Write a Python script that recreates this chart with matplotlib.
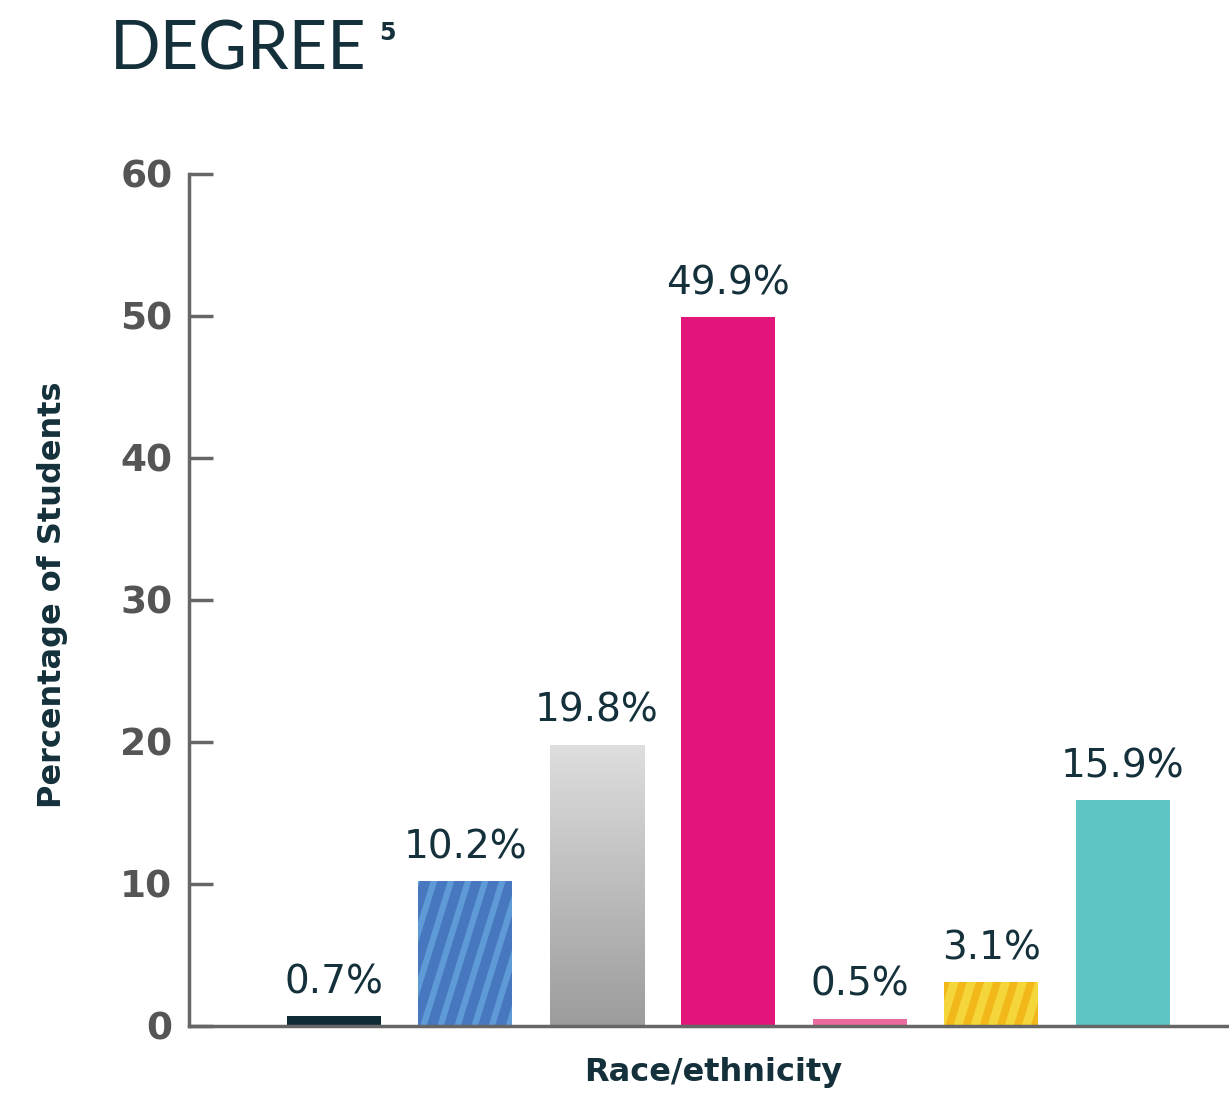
import matplotlib
matplotlib.use("Agg")
import matplotlib.pyplot as plt
from matplotlib.colors import LinearSegmentedColormap
import numpy as np

categories = ["Black", "Hispanic", "White", "Asian", "Native Hawaiian", "Multiracial", "Other"]
values = [0.7, 10.2, 19.8, 49.9, 0.5, 3.1, 15.9]
labels = ["0.7%", "10.2%", "19.8%", "49.9%", "0.5%", "3.1%", "15.9%"]
yticks = [0, 10, 20, 30, 40, 50, 60]

COLORS = ["#0f2b33", "#4777be", "#b0b0b0", "#e3157a", "#ea6aa0", "#f5d63a", "#5ec5c4"]
STRIPE = {1: "#5e9ad5", 5: "#f2b81a"}
DARK = "#14303a"
GREY = "#555555"

plt.rcParams["font.family"] = ["Lato", "DejaVu Sans"]

fig = plt.figure(figsize=(12.29, 10.96), dpi=100)
ax = fig.add_axes([0.1538, 0.0639, 0.8462, 0.7774])

x = np.arange(len(values))
w = 0.715
bars = ax.bar(x, values, w, color=COLORS, zorder=2)
ax.set_xlim(-1.10, 6.81)
ax.set_ylim(0, 60)

# gradient fill for the grey bar
gb = bars[2]
grad = np.linspace(0, 1, 256).reshape(-1, 1)
cm = LinearSegmentedColormap.from_list("g", ["#9c9c9c", "#dedede"])
im = ax.imshow(grad, cmap=cm, origin="lower", aspect="auto", zorder=3,
               extent=[gb.get_x(), gb.get_x() + gb.get_width(), 0, gb.get_height()])
im.set_clip_path(gb)

# steep diagonal stripes on the patterned bars
for i, sc in STRIPE.items():
    b = bars[i]
    x0, x1 = b.get_x(), b.get_x() + b.get_width()
    dx = 0.13
    run = 2.0  # x-shift over the full 0..60 range
    for s in np.arange(x0 - 1.0, x1 + 0.2, dx):
        ln, = ax.plot([s, s + run], [0, 60], color=sc, lw=4.5 if i == 1 else 5.5,
                      zorder=3, solid_capstyle="butt")
        ln.set_clip_path(b)

for xi, v, t in zip(x, values, labels):
    ax.annotate(t, (xi, v), xytext=(0, 16.5), textcoords="offset points",
                ha="center", va="baseline", fontsize=28, color=DARK,
                family="DejaVu Sans")

for s in ["top", "right"]:
    ax.spines[s].set_visible(False)
for s in ["left", "bottom"]:
    ax.spines[s].set_color("#666666")
    ax.spines[s].set_linewidth(2.5)
ax.spines["bottom"].set_zorder(4)

ax.set_yticks(yticks)
ax.set_yticklabels([str(t) for t in yticks], fontsize=27, fontweight="bold",
                   color=GREY, family="DejaVu Sans")
ax.tick_params(axis="y", direction="in", length=17, width=2.5, color="#666666", pad=12)
ax.set_xticks([])

ax.set_ylabel("Percentage of Students", fontsize=23, fontweight="bold", color=DARK,
              family="DejaVu Sans")
ax.yaxis.set_label_coords((68 - 189) / 1040, 0.506)
ax.set_xlabel("Race/ethnicity", fontsize=23, fontweight="bold", color=DARK,
              family="DejaVu Sans")
ax.xaxis.set_label_coords((713 - 189) / 1040, -0.037)

fig.text(110 / 1229, 1 - 70 / 1096, "DEGREE", fontsize=48, color=DARK, ha="left", va="baseline")
fig.text(379 / 1229, 1 - 40 / 1096, "5", fontsize=17, fontweight="bold", color=DARK,
         ha="left", va="baseline", family="DejaVu Sans")

fig.savefig("out.png", dpi=100)
